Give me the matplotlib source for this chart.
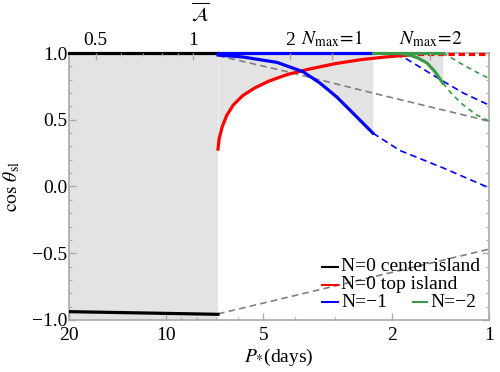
import numpy as np
import matplotlib
matplotlib.use("Agg")
import matplotlib.pyplot as plt
from matplotlib.ticker import FixedLocator, NullFormatter

plt.rcParams['font.family'] = ['Liberation Serif', 'DejaVu Serif']
plt.rcParams['mathtext.fontset'] = 'stix'
plt.rcParams['font.size'] = 14

# --- data (P in days, cos theta_sl) ---
black_top_P = [20.0, 6.91]
black_top_y = [1.0, 1.0]
black_bot_P = [20.0, 6.91]
black_bot_y = [-0.938, -0.958]

red_P = [6.91, 6.85, 6.7, 6.5, 6.2, 5.8, 5.3, 4.8, 4.2, 3.6, 3.0, 2.5, 2.1, 1.76]
red_y = [0.28, 0.36, 0.45, 0.53, 0.61, 0.68, 0.74, 0.79, 0.84, 0.88, 0.92, 0.95, 0.97, 0.985]
red_dash_P = [1.8, 1.0]
red_dash_y = [0.995, 0.995]

blue_top_P = [6.91, 2.29]
blue_top_y = [1.0, 1.0]
blue_P = [6.91, 5.78, 4.54, 3.77, 3.34, 2.96, 2.64, 2.29]
blue_y = [0.985, 0.97, 0.93, 0.86, 0.775, 0.67, 0.55, 0.40]
blue_dash_lo_P = [2.29, 1.89, 1.39, 1.0]
blue_dash_lo_y = [0.40, 0.27, 0.14, -0.01]
blue_dash_hi_P = [2.1, 1.95, 1.8, 1.6, 1.39, 1.2, 1.0]
blue_dash_hi_y = [1.0, 0.99, 0.955, 0.88, 0.79, 0.70, 0.61]

green_top_P = [2.29, 1.39]
green_top_y = [1.0, 1.0]
green_P = [2.0, 1.85, 1.76, 1.65, 1.556, 1.47, 1.39]
green_y = [1.0, 0.995, 0.985, 0.96, 0.925, 0.86, 0.775]
green_dash_lo_P = [1.39, 1.3, 1.2, 1.1, 1.0]
green_dash_lo_y = [0.775, 0.69, 0.61, 0.54, 0.49]
green_dash_hi_P = [1.39, 1.3, 1.2, 1.1, 1.0]
green_dash_hi_y = [1.0, 0.96, 0.91, 0.86, 0.81]

gray_hi_P = [6.91, 4.22, 2.29, 1.0]
gray_hi_y = [0.98, 0.86, 0.70, 0.49]
gray_lo_P = [6.91, 1.0]
gray_lo_y = [-0.955, -0.47]

# shaded zone edges
shade_full_P = [20.0, 6.91]
shade_mid_end = 2.29

# axis ticks
P_major = [20, 10, 5, 2, 1]
P_minor = [3, 4, 6, 7, 8, 9]
A_scale = 8.26          # A_bar * P
A_major = [0.5, 1, 2]
A_minor = [0.6, 0.7, 0.8, 0.9]
Nmax_P = [3.06, 1.52]
Nmax_labels = [r'$N_{\mathrm{max}}\!=\!1$', r'$N_{\mathrm{max}}\!=\!2$']

RED = '#ff0000'
BLUE = '#0000ff'
GREEN = '#3a9a48'
GRAY = '#808080'
SHADE = '#e3e3e3'
FRAME = '#aaaaaa'


def draw_shading(ax):
    ax.fill_between(shade_full_P, -1, 1, color=SHADE, lw=0, zorder=0)
    # middle zone: above the lower of the red / blue curves
    grid = sorted(set([p for p in red_P + blue_P if p >= shade_mid_end]), reverse=True)
    lg = np.log(grid)
    r = np.interp(-lg, -np.log(red_P), red_y)
    b = np.interp(-lg, -np.log(blue_P), blue_y)
    ax.fill_between(grid, np.minimum(r, b), 1, color=SHADE, lw=0, zorder=0)
    # right zone: above the N=-2 curve
    ax.fill_between(green_P, green_y, 1, color=SHADE, lw=0, zorder=0)


def draw_curves(ax):
    thick = 2.3
    thin = 1.2
    ax.plot(gray_hi_P, gray_hi_y, '--', color=GRAY, lw=thin, dashes=(4, 2.5), zorder=2)
    ax.plot(gray_lo_P, gray_lo_y, '--', color=GRAY, lw=thin, dashes=(4, 2.5), zorder=2)

    ax.plot(blue_dash_lo_P, blue_dash_lo_y, '--', color=BLUE, lw=thin, dashes=(4, 2.5), zorder=3)
    ax.plot(blue_dash_hi_P, blue_dash_hi_y, '--', color=BLUE, lw=thin, dashes=(4, 2.5), zorder=3)
    ax.plot(green_dash_lo_P, green_dash_lo_y, '--', color=GREEN, lw=thin, dashes=(3, 2.5), zorder=3)
    ax.plot(green_dash_hi_P, green_dash_hi_y, '--', color=GREEN, lw=thin, dashes=(3, 2.5), zorder=3)
    ax.plot(red_dash_P, red_dash_y, '--', color=RED, lw=thick, dashes=(2, 1.2), zorder=3,
            clip_on=False)

    ax.plot(black_top_P, black_top_y, color='black', lw=thick, zorder=4, clip_on=False)
    ax.plot(black_bot_P, black_bot_y, color='black', lw=thick, zorder=4)
    ax.plot(red_P, red_y, color=RED, lw=thick, zorder=4)
    ax.plot(blue_top_P, blue_top_y, color=BLUE, lw=thick, zorder=4, clip_on=False)
    ax.plot(blue_P, blue_y, color=BLUE, lw=thick, zorder=4)
    ax.plot(green_top_P, green_top_y, color=GREEN, lw=thick, zorder=4, clip_on=False)
    ax.plot(green_P, green_y, color=GREEN, lw=thick, zorder=4)


def draw_legend(ax):
    tr = ax.transAxes
    rows = [(0.199, 'black', 'N=0 center island'),
            (0.131, RED, 'N=0 top island'),
            (0.067, BLUE, 'N=\u22121')]
    for y, c, label in rows:
        ax.plot([0.602, 0.640], [y, y], color=c, lw=1.5, transform=tr, zorder=5)
        ax.text(0.648, y, label, transform=tr, va='center', ha='left', fontsize=14)
    ax.plot([0.819, 0.853], [0.067, 0.067], color=GREEN, lw=1.5, transform=tr, zorder=5)
    ax.text(0.861, 0.067, 'N=\u22122', transform=tr, va='center', ha='left', fontsize=14)


def style_axes(ax, ax2):
    ax.set_xscale('log')
    ax.set_xlim(20, 1)
    ax.set_ylim(-1, 1)
    ax.xaxis.set_major_locator(FixedLocator(P_major))
    ax.set_xticklabels([str(p) for p in P_major])
    ax.xaxis.set_minor_locator(FixedLocator(P_minor))
    ax.xaxis.set_minor_formatter(NullFormatter())
    ax.set_yticks([-1, -0.5, 0, 0.5, 1])
    ax.set_yticklabels(['\u22121.0', '\u22120.5', '0.0', '0.5', '1.0'])
    ax.yaxis.set_minor_locator(FixedLocator(np.arange(-0.9, 1.0, 0.1)))
    ax.tick_params(which='both', direction='in', color=FRAME, top=False, right=True,
                   labelsize=14, pad=1)
    ax.tick_params(axis='x', which='both', pad=5)
    ax.tick_params(which='major', length=5, width=1)
    ax.tick_params(which='minor', length=2.5, width=0.8)
    for s in ax.spines.values():
        s.set_color(FRAME)
        s.set_linewidth(1.2)
        s.set_zorder(1)

    ax2.set_xscale('log')
    ax2.set_xlim(20, 1)
    top_P = [A_scale / a for a in A_major] + Nmax_P
    top_labels = [str(a) for a in A_major] + Nmax_labels
    ax2.xaxis.set_major_locator(FixedLocator(top_P))
    ax2.set_xticklabels(top_labels)
    ax2.xaxis.set_minor_locator(FixedLocator([A_scale / a for a in A_minor]))
    ax2.xaxis.set_minor_formatter(NullFormatter())
    ax2.tick_params(which='both', direction='in', color=FRAME, labelsize=14, pad=3)
    ax2.tick_params(which='major', length=5, width=1)
    ax2.tick_params(which='minor', length=2.5, width=0.8)
    for s in ax2.spines.values():
        s.set_visible(False)

    ax.set_xlabel(r'$P_{*}$(days)', fontsize=14)
    ax.xaxis.set_label_coords(0.5, -0.10)
    ax.set_ylabel(r'$\cos\,\theta_{\mathrm{sl}}$', fontsize=14)
    ax.yaxis.set_label_coords(-0.112, 0.5)
    ax.text(0.312, 1.15, r'$\overline{\mathcal{A}}$', transform=ax.transAxes,
            ha='center', va='center', fontsize=14)


def main():
    fig = plt.figure(figsize=(5, 3.72), dpi=100)
    ax = fig.add_axes([0.138, 0.140, 0.840, 0.7175])
    ax2 = ax.twiny()
    style_axes(ax, ax2)
    draw_shading(ax)
    draw_curves(ax)
    draw_legend(ax)
    fig.savefig('out.png', dpi=100)


if __name__ == "__main__":
    main()
